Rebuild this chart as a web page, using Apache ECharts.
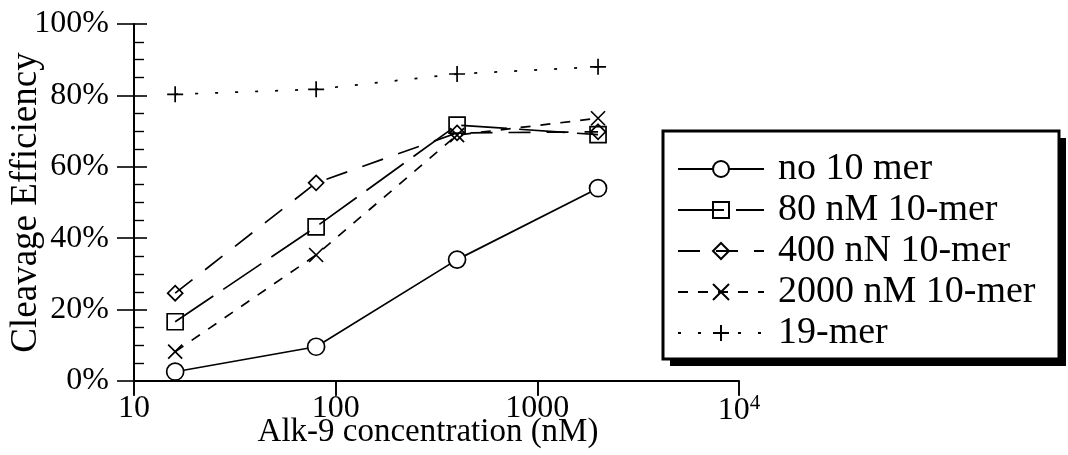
<!DOCTYPE html>
<html>
<head>
<meta charset="utf-8">
<script src="https://cdn.jsdelivr.net/npm/echarts@6/dist/echarts.min.js"></script>
<style>
  html, body { margin: 0; padding: 0; background: #fff; }
  #chart { width: 1068px; height: 455px; }
</style>
</head>
<body>
<div id="chart"></div>
<script>
// Alk-9 concentrations (nM)
const concentrations = [16, 80, 400, 2000];

// Cleavage efficiency (%) per condition
const no10mer   = [2.6, 9.6, 34.0, 54.0];
const nm80      = [16.6, 43.2, 71.7, 69.0];
const nn400     = [24.6, 55.5, 69.5, 69.8];
const nm2000    = [8.2, 35.3, 68.9, 73.6];
const mer19     = [80.3, 81.7, 86.0, 88.0];

const seriesNames = ['no 10 mer', '80 nM 10-mer', '400 nN 10-mer', '2000 nM 10-mer', '19-mer'];

const FONT = '"Liberation Serif", "Times New Roman", serif';
const INK = '#000';

const pairs = ys => concentrations.map((x, i) => [x, ys[i]]);

const CROSS = 'path://M0,0L10,10M10,0L0,10';
const PLUS = 'path://M5,0L5,10M0,5L10,5';

function lineSeries(name, ys, symbol, size, dash, fill) {
  return {
    name: name,
    type: 'line',
    data: pairs(ys),
    symbol: symbol,
    symbolSize: size,
    showAllSymbol: true,
    lineStyle: { color: INK, width: 1.7, type: dash },
    itemStyle: { color: fill, borderColor: INK, borderWidth: 1.7 },
    emphasis: { disabled: true },
    animation: false
  };
}

const chart = echarts.init(document.getElementById('chart'), null, { renderer: 'canvas' });

// legend frame with a hard drop shadow
const box = { x: 663, y: 131, w: 396, h: 228, shadow: 7 };

chart.setOption({
  backgroundColor: '#fff',
  animation: false,
  grid: { left: 134, top: 24, width: 605, height: 357, outerBoundsMode: 'none', containLabel: false },
  graphic: [
    {
      type: 'rect', z: 90, silent: true,
      shape: { x: box.x + box.shadow, y: box.y + box.shadow, width: box.w, height: box.h },
      style: { fill: INK }
    },
    {
      type: 'rect', z: 91, silent: true,
      shape: { x: box.x, y: box.y, width: box.w, height: box.h },
      style: { fill: '#fff', stroke: INK, lineWidth: 3 }
    }
  ],
  xAxis: [
    {
      type: 'log', logBase: 10, min: 10, max: 10000,
      name: 'Alk-9 concentration (nM)',
      nameLocation: 'middle', nameGap: 35, nameMoveOverlap: false,
      nameTextStyle: { fontFamily: FONT, fontSize: 33, color: INK, padding: [0, 17, 0, 0] },
      axisLine: { show: true, lineStyle: { color: INK, width: 2 } },
      axisTick: { show: true, inside: false, length: 14, lineStyle: { color: INK, width: 1.6 } },
      minorTick: { show: false },
      splitLine: { show: false },
      axisLabel: {
        fontFamily: FONT, fontSize: 32, color: INK, margin: 12,
        formatter: function (v) {
          if (v >= 10000) return '{b|10}{s|4}';
          return '{b|' + v + '}';
        },
        rich: {
          b: { fontFamily: FONT, fontSize: 32, color: INK },
          s: { fontFamily: FONT, fontSize: 21, color: INK, padding: [0, 0, 14, 0] }
        }
      }
    },
    {
      type: 'log', logBase: 10, min: 10, max: 10000,
      axisLine: { show: false },
      axisTick: { show: true, inside: true, length: 15, lineStyle: { color: INK, width: 1.6 } },
      axisLabel: { show: false },
      splitLine: { show: false }
    }
  ],
  yAxis: [
    {
      type: 'value', min: 0, max: 100, interval: 20,
      name: 'Cleavage Efficiency',
      nameLocation: 'middle', nameGap: 89, nameMoveOverlap: false,
      nameTextStyle: { fontFamily: FONT, fontSize: 37, color: INK },
      axisLine: { show: true, lineStyle: { color: INK, width: 2 } },
      axisTick: { show: true, inside: false, length: 17, lineStyle: { color: INK, width: 1.6 } },
      splitLine: { show: false },
      axisLabel: {
        fontFamily: FONT, fontSize: 32, color: INK, margin: 25,
        formatter: '{value}%'
      }
    },
    {
      type: 'value', min: 0, max: 100, interval: 20,
      position: 'left',
      axisLine: { show: false },
      axisTick: { show: true, inside: true, length: 13, lineStyle: { color: INK, width: 1.6 } },
      minorTick: { show: true, splitNumber: 4, length: 10, lineStyle: { color: INK, width: 1.4 } },
      axisLabel: { show: false },
      splitLine: { show: false }
    }
  ],
  legend: {
    orient: 'vertical',
    left: 662, top: 130,
    z: 95,
    data: seriesNames,
    itemWidth: 86, itemHeight: 20, itemGap: 3,
    padding: [20, 20, 6, 15],
    backgroundColor: 'transparent',
    borderWidth: 0,
    selectedMode: false,
    textStyle: { fontFamily: FONT, fontSize: 38, lineHeight: 36, color: INK, padding: [0, 0, 0, 9] }
  },
  series: [
    lineSeries(seriesNames[0], no10mer, 'circle', 17, 'solid', '#fff'),
    lineSeries(seriesNames[1], nm80, 'rect', 16, [46, 12], 'none'),
    lineSeries(seriesNames[2], nn400, 'diamond', 15, [22, 16], 'none'),
    lineSeries(seriesNames[3], nm2000, CROSS, 14, [10, 10], 'none'),
    lineSeries(seriesNames[4], mer19, PLUS, 16, [3, 17], 'none')
  ]
});
</script>
</body>
</html>
